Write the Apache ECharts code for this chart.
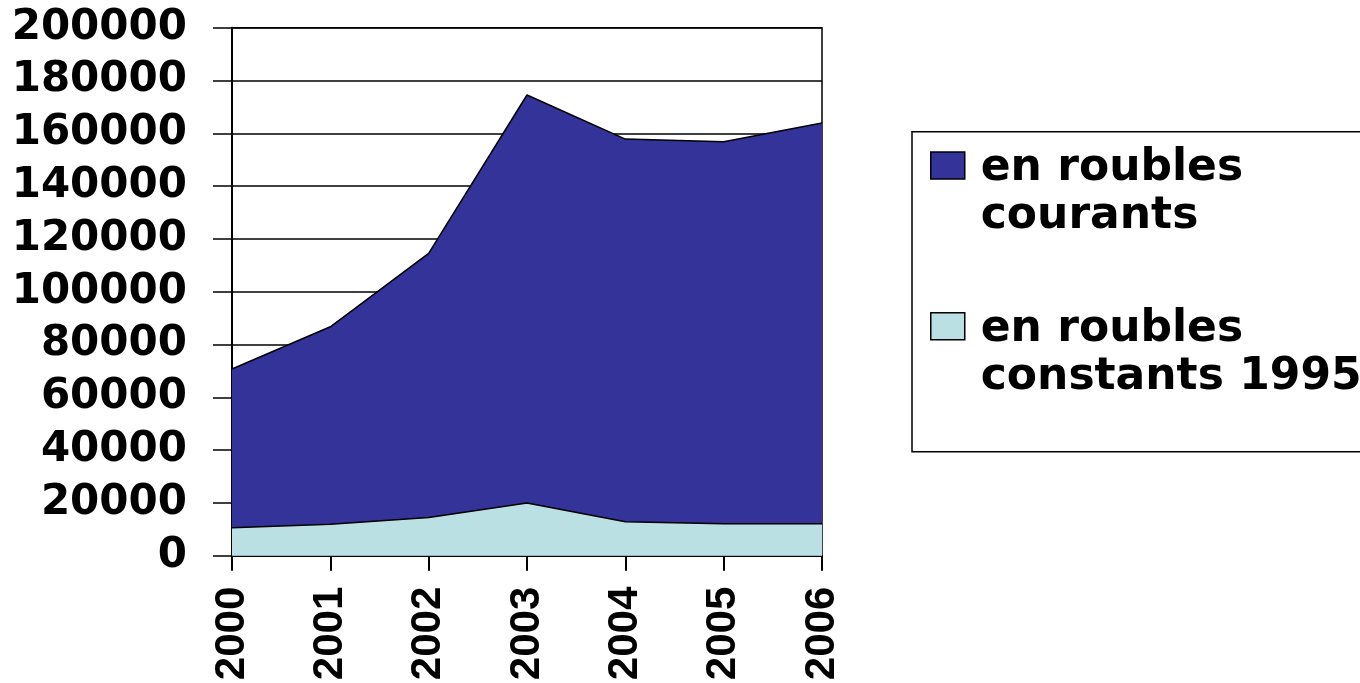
<!DOCTYPE html>
<html>
<head>
<meta charset="utf-8">
<script src="https://cdn.jsdelivr.net/npm/echarts@6/dist/echarts.min.js"></script>
<style>
html,body{margin:0;padding:0;background:#fff;}
#chart{width:1360px;height:683px;}
</style>
</head>
<body>
<div id="chart"></div>
<script>
// ---- data ----
const years = ['2000', '2001', '2002', '2003', '2004', '2005', '2006'];
const courants = [70700, 86700, 114500, 174500, 157800, 156800, 163900];
const constants1995 = [10600, 11900, 14500, 20000, 12900, 12100, 12100];
const seriesNames = ['en roubles\ncourants', 'en roubles\nconstants 1995'];
const yTicks = { min: 0, max: 200000, interval: 20000 };

// legend swatch: square at the top of a taller item box so it aligns with the first text line
const swatchIcon = 'path://M0 0H34V27H0Z M0 81';

const chart = echarts.init(document.getElementById('chart'));
chart.setOption({
  animation: false,
  backgroundColor: '#fff',
  grid: {
    left: 232, right: 538, top: 27.7, bottom: 127.3,
    outerBoundsMode: 'none',
    containLabel: false,
    show: true, borderColor: '#000', borderWidth: 1.5,
    backgroundColor: 'transparent'
  },
  legend: {
    orient: 'vertical',
    left: 912, top: 131.7,
    padding: [12.8, 30, 50.5, 18],
    itemGap: 64.7,
    itemWidth: 34, itemHeight: 81,
    icon: swatchIcon,
    borderColor: '#000', borderWidth: 1.5,
    itemStyle: { borderColor: '#000', borderWidth: 1.5 },
    textStyle: {
      fontFamily: 'DejaVu Sans', fontWeight: 'bold', fontSize: 44,
      color: '#000', lineHeight: 48, padding: [0, 0, 0, 11]
    },
    data: seriesNames
  },
  xAxis: {
    type: 'category',
    data: years,
    boundaryGap: false,
    axisLine: { lineStyle: { color: '#000', width: 2 } },
    axisTick: { show: true, length: 15, inside: false, lineStyle: { color: '#000', width: 2 } },
    axisLabel: {
      rotate: 90, margin: 31, color: '#000',
      fontFamily: 'Liberation Sans', fontWeight: 'bold', fontSize: 42,
      padding: [0, 0, 16, 0]
    },
    splitLine: { show: false }
  },
  yAxis: {
    type: 'value',
    min: yTicks.min, max: yTicks.max, interval: yTicks.interval,
    axisLine: { show: true, lineStyle: { color: '#000', width: 2 } },
    axisTick: { show: true, length: 19, lineStyle: { color: '#000', width: 1.5 } },
    axisLabel: {
      margin: 45, color: '#000',
      fontFamily: 'DejaVu Sans', fontWeight: 'bold', fontSize: 42,
      formatter: function (v) { return String(v); }
    },
    splitLine: { show: true, lineStyle: { color: '#000', width: 1.5 } }
  },
  series: [
    {
      name: seriesNames[0], type: 'line', data: courants,
      symbol: 'none', z: 2,
      lineStyle: { color: '#000', width: 1.5 },
      itemStyle: { color: '#333399' },
      areaStyle: { color: '#333399', opacity: 1 }
    },
    {
      name: seriesNames[1], type: 'line', data: constants1995,
      symbol: 'none', z: 3,
      lineStyle: { color: '#000', width: 1.5 },
      itemStyle: { color: '#BBE0E3' },
      areaStyle: { color: '#BBE0E3', opacity: 1 }
    }
  ]
});
</script>
</body>
</html>
